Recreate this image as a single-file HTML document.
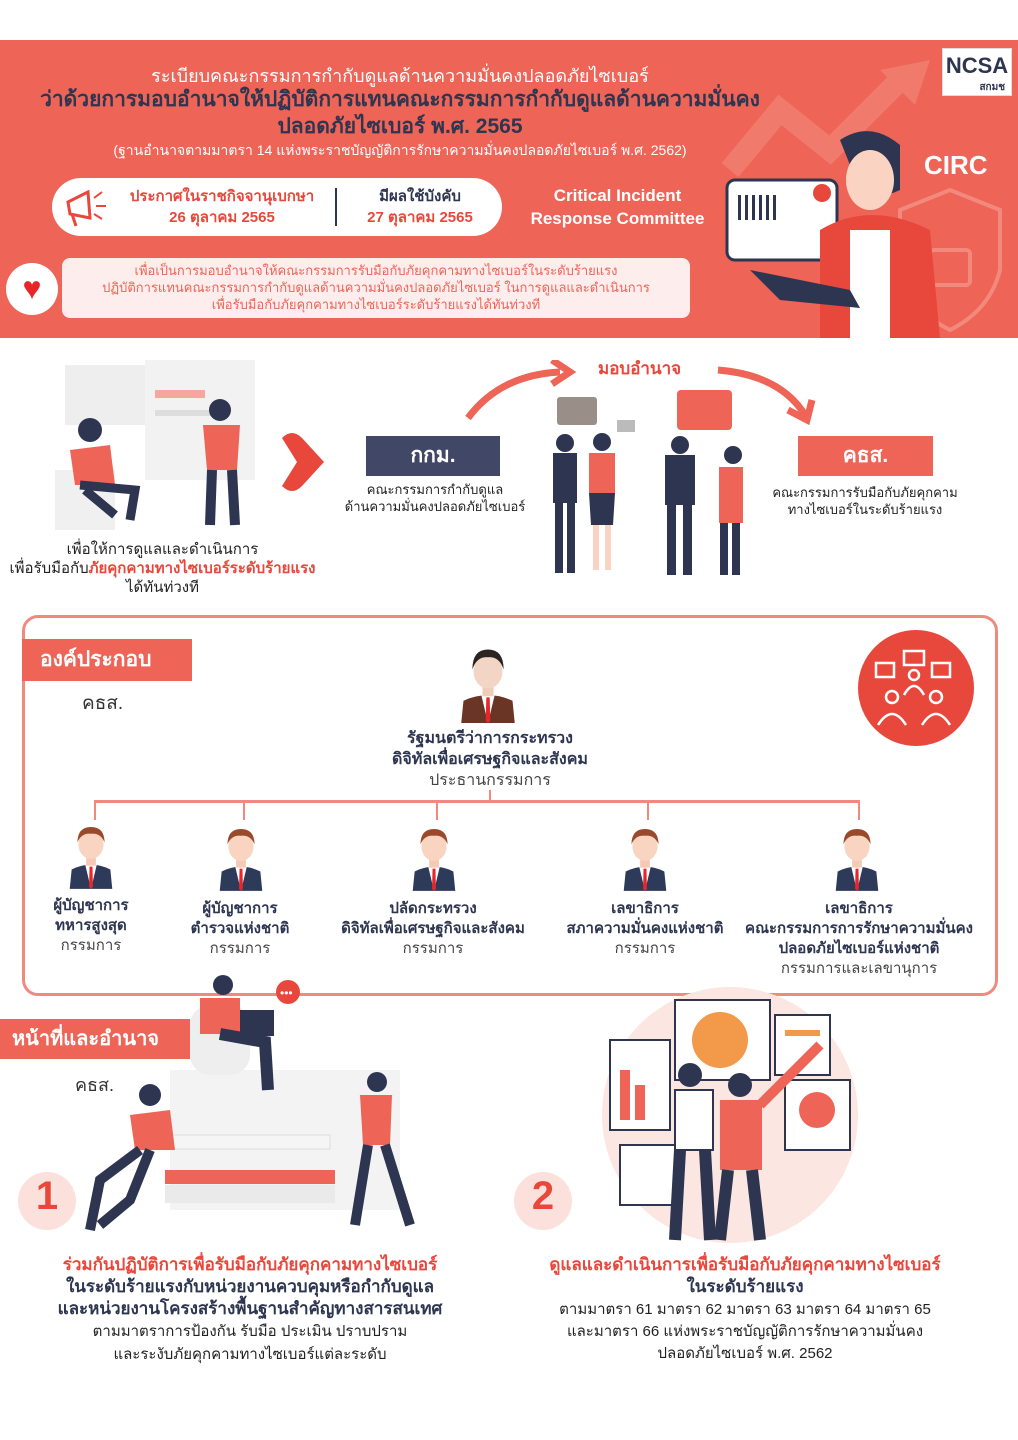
<!DOCTYPE html>
<html><head><meta charset="utf-8">
<style>
*{margin:0;padding:0;box-sizing:border-box}
body{width:1018px;height:1440px;position:relative;background:#fff;font-family:"Liberation Sans","DejaVu Sans",sans-serif;overflow:hidden;color:#2d3550}
.a{position:absolute}
.c{text-align:center}
.w{color:#fff}
.b{font-weight:bold}
.red{color:#e8483c}
</style></head><body>
<div class="a" style="left:0;top:40px;width:1018px;height:298px;background:#ee6457"></div>
<svg class="a" style="left:700px;top:60px" width="318" height="278">
 <path d="M30 110 L80 50 L130 90 L200 20" stroke="#f07a6c" stroke-width="22" fill="none"/>
 <path d="M180 10 L230 0 L215 45 Z" fill="#f07a6c"/>
 <path d="M250 130 L300 150 L300 210 Q290 250 250 270 Q210 250 200 210 L200 150 Z" fill="none" stroke="#f3897c" stroke-width="4"/>
 <rect x="230" y="190" width="40" height="35" rx="4" fill="none" stroke="#f3897c" stroke-width="4"/>
 <rect x="27" y="120" width="110" height="80" rx="8" fill="#fff" stroke="#2d3550" stroke-width="3"/>
 <g fill="#2d3550"><rect x="38" y="135" width="3" height="25"/><rect x="45" y="135" width="3" height="25"/><rect x="52" y="135" width="3" height="25"/><rect x="59" y="135" width="3" height="25"/><rect x="66" y="135" width="3" height="25"/><rect x="73" y="135" width="3" height="25"/></g>
 <circle cx="122" cy="133" r="9" fill="#e8483c"/>
 <path d="M140 80 Q170 60 200 85 L200 130 Q180 140 160 130 Z" fill="#2d3550"/>
 <ellipse cx="170" cy="120" rx="24" ry="30" fill="#fad3c2"/>
 <path d="M120 170 Q170 140 230 170 L240 278 L120 278 Z" fill="#e8483c"/>
 <rect x="150" y="170" width="40" height="108" fill="#fff"/>
 <path d="M50 210 L150 230 L160 248 L80 240 Z" fill="#2d3550"/>
</svg>
<div class="a w b" style="left:924px;top:150px;font-size:26px">CIRC</div>
<div class="a c" style="left:942px;top:48px;width:70px;height:48px;background:#fff;border:1px solid #ddd;font-size:22px;font-weight:bold;color:#2d3550;line-height:34px">NCSA<div style="font-size:10px;line-height:10px;text-align:right;padding-right:6px">สกมช</div></div>

<div class="a c w" style="left:0;top:61px;width:800px;font-size:18px">ระเบียบคณะกรรมการกำกับดูแลด้านความมั่นคงปลอดภัยไซเบอร์</div>
<div class="a c b" style="left:0;top:86px;width:800px;font-size:21px;color:#2d3550;line-height:27px">ว่าด้วยการมอบอำนาจให้ปฏิบัติการแทนคณะกรรมการกำกับดูแลด้านความมั่นคง<br>ปลอดภัยไซเบอร์ พ.ศ. 2565</div>
<div class="a c w" style="left:40px;top:140px;width:720px;font-size:14px">(ฐานอำนาจตามมาตรา 14 แห่งพระราชบัญญัติการรักษาความมั่นคงปลอดภัยไซเบอร์ พ.ศ. 2562)</div>

<div class="a" style="left:52px;top:178px;width:450px;height:58px;background:#fff;border-radius:29px"></div>
<svg class="a" style="left:60px;top:186px" width="50" height="44"><path d="M8 16 L28 6 L30 32 L10 28 Z" fill="none" stroke="#e8483c" stroke-width="3"/><path d="M12 28 L16 40" stroke="#e8483c" stroke-width="3"/><path d="M34 12 L42 6 M36 20 L46 20 M34 28 L42 33" stroke="#e8483c" stroke-width="2"/></svg>
<div class="a c b red" style="left:108px;top:186px;width:228px;font-size:15px;line-height:21px">ประกาศในราชกิจจานุเบกษา<br>26 ตุลาคม 2565</div>
<div class="a" style="left:335px;top:188px;width:2px;height:38px;background:#2d3550"></div>
<div class="a c b" style="left:345px;top:186px;width:150px;font-size:15px;line-height:21px"><span>มีผลใช้บังคับ</span><br><span class="red">27 ตุลาคม 2565</span></div>
<div class="a c w b" style="left:510px;top:184px;width:215px;font-size:17px;line-height:23px">Critical Incident<br>Response Committee</div>

<div class="a" style="left:6px;top:263px;width:52px;height:52px;border-radius:50%;background:#fff"></div>
<div class="a c" style="left:6px;top:270px;width:52px;font-size:32px;color:#e8262a;line-height:36px">♥</div>
<div class="a c" style="left:62px;top:258px;width:628px;height:60px;background:#fdeeed;border-radius:8px;font-size:13px;line-height:17px;color:#ee6457;padding-top:4px">เพื่อเป็นการมอบอำนาจให้คณะกรรมการรับมือกับภัยคุกคามทางไซเบอร์ในระดับร้ายแรง<br>ปฏิบัติการแทนคณะกรรมการกำกับดูแลด้านความมั่นคงปลอดภัยไซเบอร์ ในการดูแลและดำเนินการ<br>เพื่อรับมือกับภัยคุกคามทางไซเบอร์ระดับร้ายแรงได้ทันท่วงที</div>

<svg class="a" style="left:55px;top:355px" width="270" height="180">
 <rect x="10" y="10" width="90" height="60" fill="#eee"/><rect x="90" y="5" width="110" height="120" fill="#f2f2f2"/>
 <rect x="100" y="35" width="50" height="8" fill="#f5a79e"/><rect x="100" y="55" width="70" height="6" fill="#ddd"/>
 <rect x="0" y="115" width="60" height="60" fill="#f0f0f0"/>
 <circle cx="35" cy="75" r="12" fill="#2d3550"/><path d="M15 95 L55 90 L60 130 L20 130 Z" fill="#ee6457"/><path d="M25 130 L80 135 L75 165 M30 135 L60 160" stroke="#2d3550" stroke-width="9" fill="none"/>
 <circle cx="165" cy="55" r="11" fill="#2d3550"/><path d="M148 70 L185 70 L182 115 L152 115 Z" fill="#ee6457"/><path d="M157 115 L155 170 M177 115 L180 170" stroke="#2d3550" stroke-width="10"/>
</svg>
<svg class="a" style="left:272px;top:428px" width="58" height="68"><path d="M10 10 Q20 0 30 10 L52 34 L30 58 Q20 68 10 58 L25 34 Z" fill="#e8483c"/><circle cx="18" cy="34" r="5" fill="#fff"/></svg>
<div class="a c" style="left:0;top:540px;width:325px;font-size:15px;line-height:19px;color:#222">เพื่อให้การดูแลและดำเนินการ<br>เพื่อรับมือกับ<b class="red">ภัยคุกคามทางไซเบอร์ระดับร้ายแรง</b><br>ได้ทันท่วงที</div>

<svg class="a" style="left:460px;top:360px" width="360" height="70"><path d="M8 58 Q40 15 100 12" stroke="#ee6457" stroke-width="7" fill="none"/><path d="M92 0 L110 12 L92 24" stroke="#ee6457" stroke-width="7" fill="none"/><path d="M258 10 Q320 15 345 55" stroke="#ee6457" stroke-width="7" fill="none"/><path d="M328 50 L347 60 L352 40" stroke="#ee6457" stroke-width="7" fill="none"/></svg>
<div class="a b red" style="left:598px;top:355px;font-size:17px">มอบอำนาจ</div>
<div class="a c w b" style="left:366px;top:436px;width:134px;height:40px;background:#414766;font-size:21px;line-height:40px">กกม.</div>
<div class="a c" style="left:325px;top:481px;width:220px;font-size:13px;line-height:17px;color:#222">คณะกรรมการกำกับดูแล<br>ด้านความมั่นคงปลอดภัยไซเบอร์</div>
<div class="a c w b" style="left:798px;top:436px;width:135px;height:40px;background:#ee6457;font-size:21px;line-height:40px">คธส.</div>
<div class="a c" style="left:755px;top:484px;width:220px;font-size:13px;line-height:17px;color:#222">คณะกรรมการรับมือกับภัยคุกคาม<br>ทางไซเบอร์ในระดับร้ายแรง</div>
<svg class="a" style="left:545px;top:385px" width="200" height="195">
 <rect x="12" y="12" width="40" height="28" rx="3" fill="#9a8f88"/><rect x="72" y="35" width="18" height="12" fill="#bbb"/><rect x="132" y="5" width="55" height="40" rx="4" fill="#ee6457"/>
 <g fill="#2d3550"><circle cx="20" cy="58" r="9"/><rect x="8" y="68" width="24" height="50"/><rect x="10" y="118" width="8" height="70"/><rect x="22" y="118" width="8" height="70"/>
 <circle cx="135" cy="60" r="9"/><rect x="120" y="70" width="30" height="50"/><rect x="122" y="120" width="9" height="70"/><rect x="138" y="120" width="9" height="70"/>
 <circle cx="188" cy="70" r="9"/><rect x="175" y="138" width="8" height="52"/><rect x="187" y="138" width="8" height="52"/></g>
 <circle cx="57" cy="57" r="9" fill="#2d3550"/><rect x="44" y="68" width="26" height="40" fill="#ee6457"/><path d="M44 108 L70 108 L68 140 L46 140 Z" fill="#2d3550"/><rect x="48" y="140" width="6" height="45" fill="#fad3c2"/><rect x="60" y="140" width="6" height="45" fill="#fad3c2"/>
 <rect x="174" y="82" width="24" height="56" fill="#ee6457"/>
</svg>

<div class="a" style="left:22px;top:615px;width:976px;height:381px;border:3px solid #f08a7e;border-radius:16px"></div>
<div class="a w b" style="left:22px;top:639px;width:170px;height:42px;background:#ee6457;font-size:21px;line-height:42px;padding-left:18px">องค์ประกอบ</div>
<div class="a" style="left:82px;top:688px;font-size:19px;color:#333">คธส.</div>
<div class="a" style="left:858px;top:630px;width:116px;height:116px;border-radius:50%;background:#e8483c"></div>
<svg class="a" style="left:870px;top:645px" width="90" height="90" fill="none" stroke="#fff" stroke-width="2.5"><rect x="6" y="18" width="18" height="14"/><rect x="34" y="6" width="20" height="14"/><rect x="62" y="18" width="18" height="14"/><circle cx="44" cy="30" r="5"/><path d="M34 50 Q44 32 54 50"/><circle cx="22" cy="52" r="6"/><circle cx="66" cy="52" r="6"/><path d="M8 80 Q22 58 36 80 M52 80 Q66 58 80 80"/></svg>

<svg width="0" height="0" style="position:absolute"><defs>
<symbol id="p" viewBox="0 0 60 70"><path d="M8 70 L10 50 Q30 40 50 50 L52 70 Z" fill="#2d3a5a"/><path d="M24 45 L36 45 L30 70 Z" fill="#fff"/><path d="M28.5 47 L31.5 47 L32 68 L30 70 L28 68 Z" fill="#e8262a"/><rect x="25" y="34" width="10" height="12" fill="#f6c9b4"/><ellipse cx="30" cy="24" rx="13" ry="15" fill="#f9d4c0"/><path d="M16 22 Q16 6 30 6 Q44 6 44 22 Q40 12 30 13 Q20 12 16 22Z" fill="#9a4a2a"/></symbol>
</defs></svg>
<svg class="a" style="left:452px;top:645px" width="72" height="78" viewBox="0 0 60 70"><path d="M6 70 L8 50 Q30 40 52 50 L54 70 Z" fill="#6b3526"/><path d="M24 45 L36 45 L30 70 Z" fill="#fff"/><path d="M28.5 47 L31.5 47 L32 68 L30 70 L28 68 Z" fill="#e8262a"/><rect x="25" y="34" width="10" height="12" fill="#f0cdb9"/><ellipse cx="30" cy="24" rx="13" ry="15" fill="#f3d5c5"/><path d="M16 22 Q16 4 30 4 Q44 4 44 22 Q40 10 30 11 Q20 10 16 22Z" fill="#2b2420"/></svg>
<div class="a c b" style="left:330px;top:728px;width:320px;font-size:16px;line-height:21px">รัฐมนตรีว่าการกระทรวง<br>ดิจิทัลเพื่อเศรษฐกิจและสังคม<br><span style="font-weight:normal;color:#444">ประธานกรรมการ</span></div>
<div class="a" style="left:489px;top:790px;width:2px;height:12px;background:#f08a7e"></div>
<div class="a" style="left:94px;top:800px;width:766px;height:3px;background:#f08a7e"></div>
<div class="a" style="left:94px;top:800px;width:2px;height:20px;background:#f08a7e"></div>
<div class="a" style="left:243px;top:800px;width:2px;height:20px;background:#f08a7e"></div>
<div class="a" style="left:436px;top:800px;width:2px;height:20px;background:#f08a7e"></div>
<div class="a" style="left:647px;top:800px;width:2px;height:20px;background:#f08a7e"></div>
<div class="a" style="left:858px;top:800px;width:2px;height:20px;background:#f08a7e"></div>
<svg class="a" style="left:62px;top:820px" width="58" height="70"><use href="#p"/></svg>
<svg class="a" style="left:212px;top:822px" width="58" height="70"><use href="#p"/></svg>
<svg class="a" style="left:405px;top:822px" width="58" height="70"><use href="#p"/></svg>
<svg class="a" style="left:616px;top:822px" width="58" height="70"><use href="#p"/></svg>
<svg class="a" style="left:828px;top:822px" width="58" height="70"><use href="#p"/></svg>
<div class="a c b" style="left:26px;top:896px;width:130px;font-size:15px;line-height:20px">ผู้บัญชาการ<br>ทหารสูงสุด<br><span style="font-weight:normal;color:#444">กรรมการ</span></div>
<div class="a c b" style="left:165px;top:899px;width:150px;font-size:15px;line-height:20px">ผู้บัญชาการ<br>ตำรวจแห่งชาติ<br><span style="font-weight:normal;color:#444">กรรมการ</span></div>
<div class="a c b" style="left:318px;top:899px;width:230px;font-size:15px;line-height:20px">ปลัดกระทรวง<br>ดิจิทัลเพื่อเศรษฐกิจและสังคม<br><span style="font-weight:normal;color:#444">กรรมการ</span></div>
<div class="a c b" style="left:550px;top:899px;width:190px;font-size:15px;line-height:20px">เลขาธิการ<br>สภาความมั่นคงแห่งชาติ<br><span style="font-weight:normal;color:#444">กรรมการ</span></div>
<div class="a c b" style="left:735px;top:899px;width:248px;font-size:15px;line-height:20px">เลขาธิการ<br>คณะกรรมการการรักษาความมั่นคง<br>ปลอดภัยไซเบอร์แห่งชาติ<br><span style="font-weight:normal;color:#444">กรรมการและเลขานุการ</span></div>

<div class="a w b" style="left:0;top:1019px;width:190px;height:40px;background:#ee6457;font-size:20px;line-height:40px;padding-left:12px">หน้าที่และอำนาจ</div>
<div class="a" style="left:75px;top:1070px;font-size:18px;color:#333">คธส.</div>
<svg class="a" style="left:80px;top:970px" width="350" height="265">
 <rect x="90" y="100" width="230" height="140" fill="#f3f3f3"/>
 <rect x="85" y="200" width="170" height="14" fill="#ee6457"/><rect x="85" y="215" width="170" height="18" fill="#eaeaea"/><rect x="90" y="165" width="160" height="14" fill="#f5f5f5" stroke="#ddd"/>
 <rect x="110" y="35" width="60" height="70" rx="20" fill="#eee"/>
 <circle cx="143" cy="15" r="10" fill="#2d3550"/><rect x="120" y="28" width="40" height="36" fill="#ee6457"/><rect x="160" y="40" width="34" height="26" fill="#2d3550"/><path d="M140 64 L185 72 L188 120" stroke="#2d3550" stroke-width="12" fill="none"/>
 <circle cx="208" cy="22" r="12" fill="#e8483c"/><text x="200" y="27" fill="#fff" font-size="12">•••</text>
 <circle cx="70" cy="125" r="11" fill="#2d3550"/><path d="M50 145 L90 140 L95 180 L55 180 Z" fill="#ee6457"/><path d="M60 180 L20 210 L10 260 M70 180 L50 230 L20 255" stroke="#2d3550" stroke-width="10" fill="none"/>
 <circle cx="297" cy="112" r="10" fill="#2d3550"/><path d="M280 125 L312 125 L310 175 L283 175 Z" fill="#ee6457"/><path d="M288 175 L275 255 M305 175 L330 255" stroke="#2d3550" stroke-width="10"/>
</svg>
<svg class="a" style="left:580px;top:985px" width="300" height="260">
 <circle cx="150" cy="130" r="128" fill="#fce6e2"/>
 <rect x="30" y="55" width="60" height="90" fill="#fff" stroke="#2d3550" stroke-width="2"/><rect x="40" y="85" width="10" height="50" fill="#ee6457"/><rect x="55" y="100" width="10" height="35" fill="#ee6457"/>
 <rect x="95" y="15" width="95" height="80" fill="#fff" stroke="#2d3550" stroke-width="2"/><circle cx="140" cy="55" r="28" fill="#f39a4a"/>
 <rect x="195" y="30" width="55" height="60" fill="#fff" stroke="#2d3550" stroke-width="2"/><rect x="205" y="45" width="35" height="6" fill="#f39a4a"/>
 <rect x="205" y="95" width="65" height="70" fill="#fff" stroke="#2d3550" stroke-width="2"/><circle cx="237" cy="125" r="18" fill="#ee6457"/>
 <rect x="40" y="160" width="55" height="60" fill="#fff" stroke="#2d3550" stroke-width="2"/>
 <circle cx="110" cy="90" r="12" fill="#2d3550"/><rect x="95" y="105" width="38" height="60" fill="#fff" stroke="#2d3550" stroke-width="2"/><path d="M100 165 L95 255 M125 165 L130 255" stroke="#2d3550" stroke-width="12"/>
 <circle cx="160" cy="100" r="12" fill="#2d3550"/><rect x="140" y="115" width="42" height="70" fill="#ee6457"/><path d="M180 120 L240 60" stroke="#ee6457" stroke-width="10"/><path d="M148 185 L140 255 M172 185 L180 255" stroke="#2d3550" stroke-width="12"/>
</svg>
<div class="a" style="left:18px;top:1172px;width:58px;height:58px;border-radius:50%;background:#fce0dc"></div>
<div class="a c b" style="left:18px;top:1174px;width:58px;font-size:40px;color:#e8483c">1</div>
<div class="a" style="left:514px;top:1172px;width:58px;height:58px;border-radius:50%;background:#fce0dc"></div>
<div class="a c b" style="left:514px;top:1174px;width:58px;font-size:40px;color:#e8483c">2</div>
<div class="a c" style="left:0;top:1254px;width:500px;font-size:17px;line-height:22px"><b class="red">ร่วมกันปฏิบัติการเพื่อรับมือกับภัยคุกคามทางไซเบอร์</b><br><b>ในระดับร้ายแรงกับหน่วยงานควบคุมหรือกำกับดูแล<br>และหน่วยงานโครงสร้างพื้นฐานสำคัญทางสารสนเทศ</b><br><span style="font-size:15px;color:#222">ตามมาตราการป้องกัน รับมือ ประเมิน ปราบปราม<br>และระงับภัยคุกคามทางไซเบอร์แต่ละระดับ</span></div>
<div class="a c" style="left:495px;top:1254px;width:500px;font-size:17px;line-height:22px"><b class="red">ดูแลและดำเนินการเพื่อรับมือกับภัยคุกคามทางไซเบอร์</b><br><b>ในระดับร้ายแรง</b><br><span style="font-size:15px;color:#222;line-height:20px">ตามมาตรา 61 มาตรา 62 มาตรา 63 มาตรา 64 มาตรา 65<br>และมาตรา 66 แห่งพระราชบัญญัติการรักษาความมั่นคง<br>ปลอดภัยไซเบอร์ พ.ศ. 2562</span></div>
</body></html>
